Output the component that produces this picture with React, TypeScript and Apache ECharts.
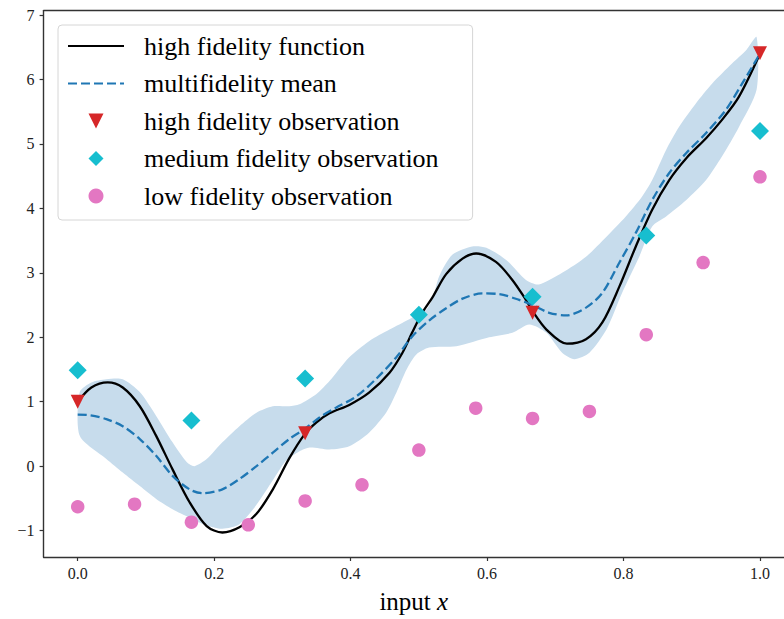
import React, { useEffect, useRef } from "react";
import * as echarts from "echarts";

// high fidelity function (black solid)
const hfX = [0, 0.02, 0.044, 0.066, 0.091, 0.115, 0.139, 0.164, 0.189, 0.212, 0.237, 0.262, 0.286, 0.31, 0.333, 0.35, 0.369, 0.398, 0.427, 0.457, 0.476, 0.49, 0.505, 0.52, 0.54, 0.564, 0.584, 0.613, 0.637, 0.657, 0.667, 0.687, 0.717, 0.745, 0.769, 0.794, 0.818, 0.842, 0.867, 0.892, 0.921, 0.944, 0.969, 1.0];
const hfY = [1.0, 1.22, 1.3, 1.22, 0.93, 0.47, -0.05, -0.56, -0.93, -1.03, -0.95, -0.74, -0.36, 0.12, 0.5, 0.68, 0.82, 0.95, 1.14, 1.45, 1.76, 2.07, 2.38, 2.62, 2.98, 3.22, 3.3, 3.17, 2.89, 2.58, 2.4, 2.12, 1.9, 1.97, 2.23, 2.79, 3.41, 3.98, 4.44, 4.78, 5.09, 5.37, 5.73, 6.4];

// multifidelity mean (blue dashed)
const mfX = [0, 0.018, 0.042, 0.066, 0.091, 0.115, 0.139, 0.164, 0.183, 0.212, 0.237, 0.262, 0.286, 0.31, 0.333, 0.355, 0.379, 0.408, 0.437, 0.467, 0.49, 0.515, 0.54, 0.564, 0.593, 0.618, 0.647, 0.667, 0.691, 0.716, 0.745, 0.769, 0.794, 0.818, 0.842, 0.867, 0.892, 0.921, 0.95, 0.974, 1.0];
const mfY = [0.8, 0.79, 0.73, 0.62, 0.42, 0.16, -0.15, -0.36, -0.42, -0.36, -0.2, 0.0, 0.21, 0.42, 0.58, 0.76, 0.91, 1.08, 1.35, 1.69, 2.01, 2.26, 2.45, 2.6, 2.68, 2.67, 2.58, 2.5, 2.38, 2.34, 2.46, 2.69, 3.16, 3.62, 4.13, 4.55, 4.86, 5.17, 5.53, 5.94, 6.4];

// uncertainty band
const upX = [0.003, 0.02, 0.042, 0.066, 0.091, 0.115, 0.139, 0.16, 0.171, 0.189, 0.212, 0.237, 0.262, 0.286, 0.31, 0.325, 0.35, 0.369, 0.398, 0.427, 0.457, 0.486, 0.511, 0.52, 0.53, 0.549, 0.578, 0.599, 0.628, 0.657, 0.676, 0.71, 0.745, 0.775, 0.803, 0.827, 0.842, 0.862, 0.881, 0.906, 0.93, 0.959, 0.98, 0.995];
const upY = [1.15, 1.3, 1.35, 1.35, 1.15, 0.78, 0.37, 0.06, 0.0, 0.11, 0.37, 0.62, 0.83, 0.93, 0.93, 0.96, 1.12, 1.32, 1.69, 1.94, 2.12, 2.28, 2.43, 2.6, 2.95, 3.28, 3.41, 3.39, 3.2, 2.89, 2.82, 3.0, 3.25, 3.56, 3.87, 4.18, 4.44, 4.9, 5.26, 5.63, 5.94, 6.25, 6.46, 6.66];
const loX = [0.003, 0.042, 0.066, 0.091, 0.115, 0.139, 0.164, 0.189, 0.212, 0.237, 0.262, 0.286, 0.305, 0.325, 0.34, 0.369, 0.398, 0.427, 0.452, 0.467, 0.482, 0.496, 0.515, 0.555, 0.603, 0.637, 0.662, 0.687, 0.71, 0.728, 0.75, 0.775, 0.798, 0.823, 0.842, 0.862, 0.892, 0.921, 0.944, 0.969, 0.995];
const loY = [0.47, 0.11, -0.1, -0.31, -0.51, -0.67, -0.8, -0.92, -0.97, -0.9, -0.6, -0.22, 0.08, 0.23, 0.29, 0.26, 0.31, 0.52, 0.83, 1.14, 1.5, 1.73, 1.84, 1.86, 2.0, 2.07, 2.2, 2.07, 1.76, 1.66, 1.76, 2.12, 2.69, 3.25, 3.72, 3.87, 4.13, 4.44, 4.8, 5.26, 5.84];

// observations
const highObsX = [0, 1 / 3, 2 / 3, 1];
const highObsY = [1.0, 0.51, 2.38, 6.41];
const medObsX = [0, 1 / 6, 2 / 6, 3 / 6, 4 / 6, 5 / 6, 1];
const medObsY = [1.49, 0.71, 1.36, 2.35, 2.63, 3.58, 5.2];
const lowObsX = [0, 1, 2, 3, 4, 5, 6, 7, 8, 9, 10, 11, 12].map((k) => k / 12);
const lowObsY = [-0.63, -0.59, -0.87, -0.91, -0.54, -0.29, 0.25, 0.9, 0.74, 0.85, 2.04, 3.16, 4.49];

const xTicks = [0, 0.2, 0.4, 0.6, 0.8, 1.0];
const yTicks = [-1, 0, 1, 2, 3, 4, 5, 6, 7];
const X_MIN = -0.05;
const X_MAX = 1.0352; // visible part of the axis (right spine lies outside the picture)
const Y_MIN = -1.41;
const Y_MAX = 7.07;

const zip = (xs: number[], ys: number[]) => xs.map((x, i) => [x, ys[i]]);

const SERIF = "Liberation Serif";
const TRI_DOWN = "path://M0,0L2,0L1,2Z";
const DIAMOND = "path://M1,0L2,1L1,2L0,1Z";
const HIDDEN = { color: "rgba(0,0,0,0)", borderColor: "rgba(0,0,0,0)", borderWidth: 0 };
const SPINE = { color: "#333", width: 1.4 };

export default function App() {
  const ref = useRef<HTMLDivElement>(null);
  useEffect(() => {
    if (!ref.current) return;
    const chart = echarts.init(ref.current, null, { renderer: "svg" });
    const option: any = {
      animation: false,
      backgroundColor: "#ffffff",
      textStyle: { fontFamily: SERIF },
      grid: {
        left: 43.6,
        top: 10.6,
        right: 0,
        bottom: 60.6,
        show: false,
      },
      legend: {
        orient: "vertical",
        left: 58,
        top: 25,
        backgroundColor: "rgba(255,255,255,0.85)",
        borderColor: "#d6d6d6",
        borderWidth: 1,
        borderRadius: 4,
        padding: [8, 34, 11, 9],
        itemGap: 11.5,
        itemWidth: 56,
        itemHeight: 15,
        textStyle: {
          fontFamily: SERIF,
          fontSize: 26,
          lineHeight: 26,
          color: "#000",
          padding: [0, 0, 0, 15],
        },
        data: [
          { name: "high fidelity function", itemStyle: HIDDEN },
          { name: "multifidelity mean", itemStyle: HIDDEN },
          { name: "high fidelity observation" },
          { name: "medium fidelity observation" },
          { name: "low fidelity observation" },
        ],
      },
      xAxis: [
        {
          type: "value",
          min: X_MIN,
          max: X_MAX,
          splitLine: { show: false },
          axisLine: { show: true, onZero: false, lineStyle: SPINE },
          axisTick: {
            show: true,
            length: 4,
            customValues: xTicks,
            lineStyle: { color: "#333", width: 1.2 },
          },
          axisLabel: {
            customValues: xTicks,
            formatter: (v: number) => v.toFixed(1),
            fontFamily: SERIF,
            fontSize: 16,
            color: "#222",
            margin: 8,
          },
          name: "input {i|x}",
          nameLocation: "middle",
          nameGap: 32,
          nameTextStyle: {
            fontFamily: SERIF,
            fontSize: 25,
            color: "#000",
            rich: { i: { fontFamily: SERIF, fontSize: 25, fontStyle: "italic", color: "#000" } },
          },
        },
        {
          type: "value",
          position: "top",
          min: X_MIN,
          max: X_MAX,
          splitLine: { show: false },
          axisLine: { show: true, onZero: false, lineStyle: SPINE },
          axisTick: { show: false },
          axisLabel: { show: false },
        },
      ],
      yAxis: {
        type: "value",
        min: Y_MIN,
        max: Y_MAX,
        splitLine: { show: false },
        axisLine: { show: true, onZero: false, lineStyle: SPINE },
        axisTick: {
          show: true,
          length: 4,
          customValues: yTicks,
          lineStyle: { color: "#333", width: 1.2 },
        },
        axisLabel: {
          customValues: yTicks,
          formatter: (v: number) => (v < 0 ? "\u2212" + Math.abs(v) : String(v)),
          fontFamily: SERIF,
          fontSize: 16,
          color: "#222",
          margin: 9,
        },
      },
      series: [
        {
          type: "custom",
          name: "band",
          z: 1,
          silent: true,
          clip: true,
          data: [[0, 0]],
          renderItem: (params: any, api: any) => {
            const pts: number[][] = [];
            for (let i = 0; i < upX.length; i++) pts.push(api.coord([upX[i], upY[i]]));
            for (let i = loX.length - 1; i >= 0; i--) pts.push(api.coord([loX[i], loY[i]]));
            return {
              type: "polygon",
              shape: { points: pts, smooth: 0.25 },
              style: { fill: "#c7dcec", stroke: "none" },
            };
          },
        },
        {
          type: "line",
          name: "high fidelity function",
          z: 3,
          data: zip(hfX, hfY),
          symbol: "none",
          smooth: 0.3,
          lineStyle: { color: "#000000", width: 2.3 },
          itemStyle: { color: "#000000" },
        },
        {
          type: "line",
          name: "multifidelity mean",
          z: 4,
          data: zip(mfX, mfY),
          symbol: "none",
          smooth: 0.3,
          lineStyle: { color: "#1f77b4", width: 2.3, type: [9, 4] },
          itemStyle: { color: "#1f77b4" },
        },
        {
          type: "scatter",
          name: "high fidelity observation",
          z: 6,
          data: zip(highObsX, highObsY),
          symbol: TRI_DOWN,
          symbolSize: 14,
          itemStyle: { color: "#d62728", opacity: 1 },
        },
        {
          type: "scatter",
          name: "medium fidelity observation",
          z: 5,
          data: zip(medObsX, medObsY),
          symbol: DIAMOND,
          symbolSize: 18,
          itemStyle: { color: "#17becf", opacity: 1 },
        },
        {
          type: "scatter",
          name: "low fidelity observation",
          z: 5,
          data: zip(lowObsX, lowObsY),
          symbol: "circle",
          symbolSize: 13.5,
          itemStyle: { color: "#e377c2", opacity: 1 },
        },
      ],
    };
    chart.setOption(option);
    return () => chart.dispose();
  }, []);
  return (
    <div
      ref={ref}
      style={{ position: "absolute", left: 0, top: 0, width: 784, height: 619 }}
    />
  );
}
